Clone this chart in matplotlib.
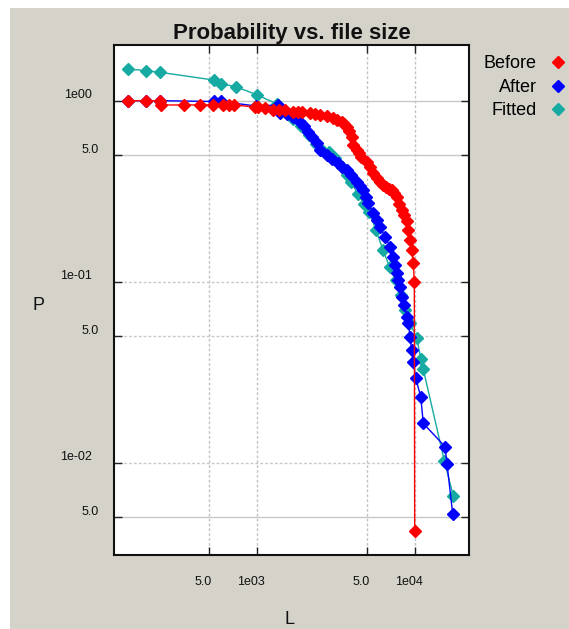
import matplotlib
matplotlib.use('Agg')
import matplotlib.pyplot as plt
from matplotlib import transforms
from matplotlib.lines import Line2D
from matplotlib.patches import Rectangle
from matplotlib.ticker import FixedLocator, NullLocator, NullFormatter

plt.rcParams['font.family'] = ['Liberation Sans', 'DejaVu Sans']

# ---------------- data ----------------
title = "Probability vs. file size"
x_label = "L"
y_label = "P"
series_names = ["Before", "After", "Fitted"]

before_L = [153, 198, 244, 248, 347, 438, 527, 609, 668, 718, 976, 1019, 1128, 1274, 1384,
            1510, 1705, 1826, 1935, 2175, 2339, 2515, 2786, 3053, 3223, 3451, 3569, 3712,
            3838, 3994, 4088, 4296, 4441, 4573, 4970, 5213, 5470, 5772, 6030, 6300, 6582,
            6877, 7152, 7396, 7691, 7954, 8274, 8557, 8900, 9110, 9340, 9573, 9797, 9942,
            9997]
before_P = [1.0, 1.0, 1.0, 0.947, 0.947, 0.947, 0.947, 0.947, 0.947, 0.947, 0.923, 0.923,
            0.911, 0.888, 0.888, 0.888, 0.869, 0.866, 0.866, 0.858, 0.844, 0.834, 0.823,
            0.799, 0.782, 0.766, 0.743, 0.718, 0.680, 0.633, 0.569, 0.534, 0.514, 0.489,
            0.458, 0.430, 0.399, 0.374, 0.356, 0.342, 0.334, 0.325, 0.321, 0.309, 0.294,
            0.269, 0.249, 0.234, 0.216, 0.193, 0.170, 0.150, 0.127, 0.0996, 0.0042]

after_L = [153, 198, 244, 534, 594, 990, 1370, 1404, 1555, 1705, 1880, 1993, 2121, 2239,
           2398, 2515, 2773, 2997, 3285, 3491, 3712, 3953, 4296, 4506, 4728, 4918, 5086,
           5470, 5772, 6030, 6486, 6978, 7321, 7504, 7691, 7840, 8072, 8274, 8557, 8900,
           9110, 9340, 9573, 9797, 10146, 10914, 11334, 15553, 16011, 17398]
after_P = [1.0, 1.0, 1.0, 0.990, 0.990, 0.935, 0.947, 0.855, 0.844, 0.816, 0.766, 0.725,
           0.674, 0.630, 0.582, 0.534, 0.501, 0.476, 0.451, 0.430, 0.414, 0.389, 0.357,
           0.338, 0.321, 0.294, 0.271, 0.2386, 0.2193, 0.2013, 0.1773, 0.1561, 0.1374,
           0.1237, 0.1113, 0.1022, 0.0938, 0.0826, 0.0743, 0.0641, 0.0589, 0.0497, 0.0419,
           0.0361, 0.0293, 0.0232, 0.0165, 0.01226, 0.00984, 0.00521]

fitted_L = [154, 199, 244, 534, 594, 740, 1009, 1345, 1510, 1697, 1907, 2143, 2373, 2590,
            2869, 3131, 3467, 3728, 3953, 4377, 4777, 5137, 5689, 6300, 6927, 7614, 8190,
            8682, 9340, 10296, 10962, 11334, 15393, 17551]
fitted_P = [1.497, 1.465, 1.435, 1.301, 1.241, 1.195, 1.075, 0.959, 0.877, 0.792, 0.725,
            0.646, 0.576, 0.534, 0.521, 0.483, 0.430, 0.389, 0.3555, 0.305, 0.2688, 0.2427,
            0.193, 0.1497, 0.1210, 0.1022, 0.0844, 0.0698, 0.0591, 0.0487, 0.0373, 0.0328,
            0.01026, 0.00655]

x_ticks = [500, 1000, 5000, 10000]
x_tick_labels = ["5.0", "1e03", "5.0", "1e04"]
y_ticks = [1.0, 0.5, 0.1, 0.05, 0.01, 0.005]
y_tick_labels = ["1e00", "5.0", "1e-01", "5.0", "1e-02", "5.0"]

# ---------------- style ----------------
W, H = 569, 629
RED = '#ff0000'
BLUE = '#0000ff'
TEAL = '#16aaa2'
BG = '#d5d2ca'
MS = 6.0

fig = plt.figure(figsize=(W / 100, H / 100), dpi=100, facecolor='white')
fig.add_artist(Rectangle((10 / W, 0), 1 - 10 / W, 1 - 8 / H, transform=fig.transFigure,
                         facecolor=BG, edgecolor='none', zorder=-10))

ax = fig.add_axes([114 / W, 1 - 555 / H, 355 / W, 510 / H])
ax.set_facecolor('white')
ax.set_xscale('log')
ax.set_yscale('log')
ax.set_xlim(125, 22060)
ax.set_ylim(0.00309, 2.031)

# grid
for xv in x_ticks:
    ax.axvline(xv, color='#c2c2c2', lw=1.0, ls=(0, (2, 1.5)), zorder=0)
y_grid_styles = ['-', '-', (0, (2, 1.5)), (0, (2, 1.5)), (0, (2, 1.5)), '-']
for yv, st in zip(y_ticks, y_grid_styles):
    ax.axhline(yv, color='#c8c8c8', lw=1.0, ls=st, zorder=0)

# data
mk = dict(marker='D', ms=MS, lw=1.0)
ax.plot(fitted_L, fitted_P, color=TEAL, mfc=TEAL, mec=TEAL, zorder=3, **mk)
ax.plot(after_L, after_P, color=BLUE, mfc=BLUE, mec=BLUE, zorder=4, **mk)
ax.plot(before_L, before_P, color=RED, mfc=RED, mec=RED, zorder=5, **mk)

# ticks
ax.xaxis.set_major_locator(FixedLocator(x_ticks))
ax.yaxis.set_major_locator(FixedLocator(y_ticks))
ax.xaxis.set_minor_locator(NullLocator())
ax.yaxis.set_minor_locator(NullLocator())
ax.xaxis.set_major_formatter(NullFormatter())
ax.yaxis.set_major_formatter(NullFormatter())
ax.tick_params(which='major', direction='in', length=6, width=1, color='#222222',
               top=True, right=True, labelleft=False, labelbottom=False)
for s in ax.spines.values():
    s.set_color('#111111')
    s.set_linewidth(1.5)

# tick labels as text
ytr = transforms.blended_transform_factory(fig.transFigure, ax.transData) + \
    transforms.ScaledTranslation(0, 5.5 / 100, fig.dpi_scale_trans)
for yv, lab in zip(y_ticks, y_tick_labels):
    xpx = 98.5 if not lab.startswith('1e') else 91.5
    ax.text(xpx / W, yv, lab, transform=ytr, ha='right', va='center', fontsize=9,
            color='#111111', clip_on=False)
xtr = transforms.blended_transform_factory(ax.transData, fig.transFigure) + \
    transforms.ScaledTranslation(-6 / 100, 0, fig.dpi_scale_trans)
for xv, lab in zip(x_ticks, x_tick_labels):
    ax.text(xv, 1 - 582 / H, lab, transform=xtr, ha='center', va='center', fontsize=9,
            color='#111111', clip_on=False)

# labels and title
fig.text(39 / W, 1 - 305.5 / H, y_label, fontsize=13, ha='center', va='center', color='#111111')
fig.text(290 / W, 1 - 620 / H, x_label, fontsize=13, ha='center', va='center', color='#111111')
ax.set_title(title, fontsize=16, fontweight='bold', pad=4, color='#111111')

# legend
handles = [Line2D([], [], ls='none', marker='D', ms=MS, color=c, mec=c)
           for c in (RED, BLUE, TEAL)]
fig.legend(handles, series_names, loc='upper right', bbox_to_anchor=(565 / W, 1 - 55.5 / H),
           frameon=False, markerfirst=False, fontsize=13, handlelength=0.8,
           handletextpad=0.77, labelspacing=0.35, borderpad=0, borderaxespad=0)

fig.savefig('out.png', dpi=100, facecolor=fig.get_facecolor())
